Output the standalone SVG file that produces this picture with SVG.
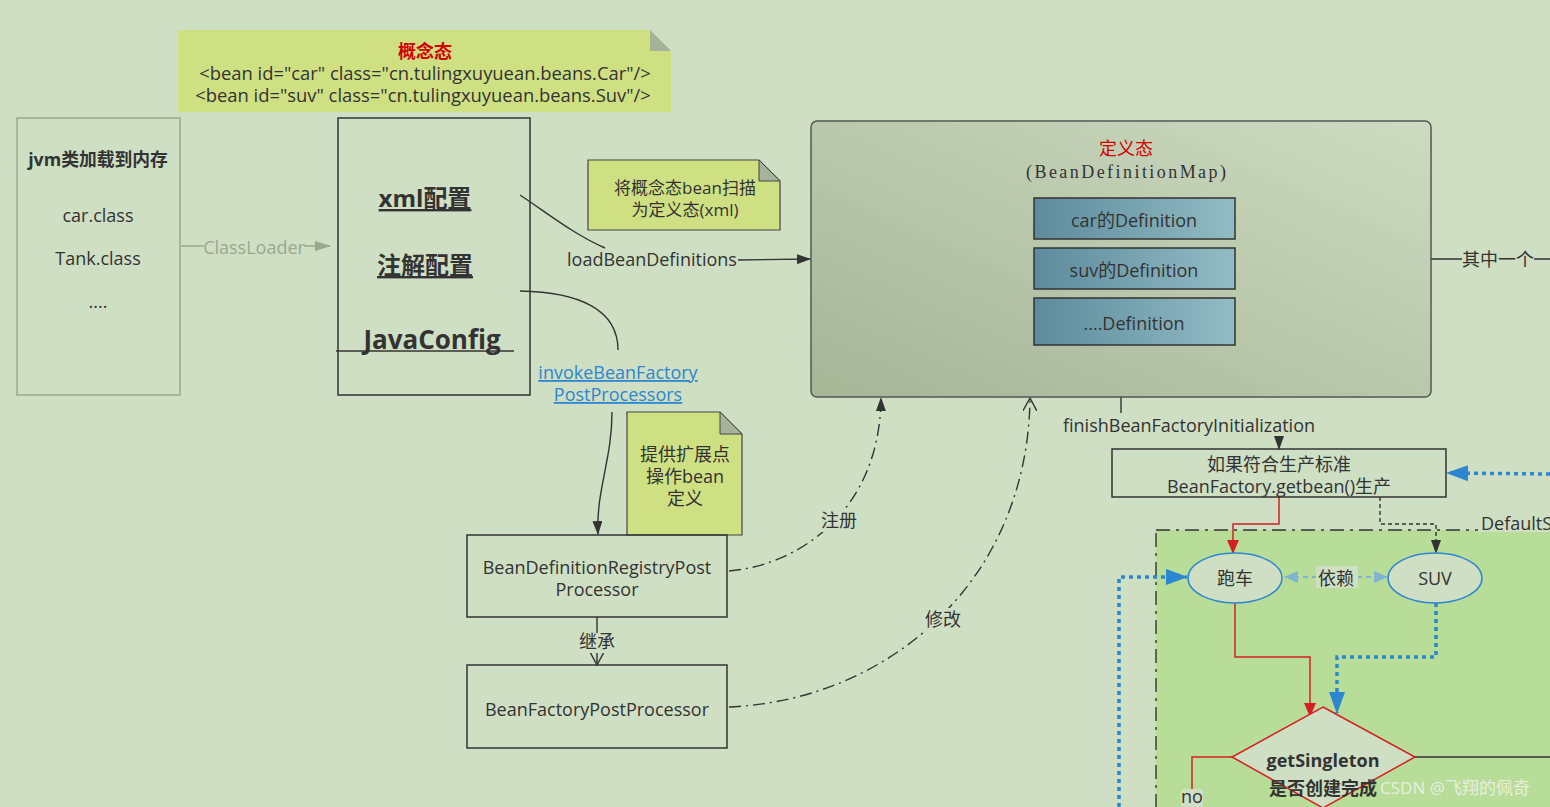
<svg xmlns="http://www.w3.org/2000/svg" width="1550" height="807" viewBox="0 0 1550 807">
<defs>
<style>
text{font-family:"Open Sans","Noto Sans CJK SC",sans-serif;fill:#333;font-size:18px;text-anchor:middle}
.b{font-weight:bold}
.box{fill:none;stroke:#333;stroke-width:1.5}
.note{fill:#cfe083;stroke:#444;stroke-width:1.2}
.fold{fill:#a6b29a;stroke:#444;stroke-width:1}
.ln{fill:none;stroke:#333;stroke-width:1.4}
.dd{fill:none;stroke:#333;stroke-width:1.4;stroke-dasharray:12 5 2 5}
.red{fill:none;stroke:#d42020;stroke-width:1.5}
.blu{fill:none;stroke:#2d86d0;stroke-width:3.5;stroke-dasharray:4 4}
</style>
<linearGradient id="gMap" x1="0" y1="1" x2="1" y2="0">
<stop offset="0" stop-color="#a6b596"/>
<stop offset="1" stop-color="#cddcc1"/>
</linearGradient>
<linearGradient id="gDef" x1="0" y1="0" x2="1" y2="0">
<stop offset="0" stop-color="#5d8b9d"/>
<stop offset="1" stop-color="#92bcc4"/>
</linearGradient>
<marker id="aK" markerWidth="14" markerHeight="10" refX="13" refY="5" orient="auto" markerUnits="userSpaceOnUse"><path d="M0,0 L14,5 L0,10 Z" fill="#333"/></marker>
<marker id="aG" markerWidth="16" markerHeight="10" refX="15" refY="5" orient="auto" markerUnits="userSpaceOnUse"><path d="M0,0 L16,5 L0,10 Z" fill="#9aa890"/></marker>
<marker id="aV" markerWidth="14" markerHeight="14" refX="13" refY="7" orient="auto" markerUnits="userSpaceOnUse"><path d="M0,0 L13,7 L0,14" fill="none" stroke="#333" stroke-width="1.4"/></marker>
<marker id="aR" markerWidth="14" markerHeight="12" refX="13" refY="6" orient="auto" markerUnits="userSpaceOnUse"><path d="M0,0 L14,6 L0,12 Z" fill="#d42020"/></marker>
<marker id="aB" markerWidth="22" markerHeight="16" refX="21" refY="8" orient="auto" markerUnits="userSpaceOnUse"><path d="M0,0 L22,8 L0,16 Z" fill="#2d86d0"/></marker>
<marker id="aL" markerWidth="14" markerHeight="12" refX="13" refY="6" orient="auto" markerUnits="userSpaceOnUse"><path d="M0,0 L14,6 L0,12 Z" fill="#7fb5cf"/></marker>
<marker id="aL2" markerWidth="14" markerHeight="12" refX="1" refY="6" orient="auto" markerUnits="userSpaceOnUse"><path d="M14,0 L0,6 L14,12 Z" fill="#7fb5cf"/></marker>
</defs>
<rect width="1550" height="807" fill="#cfdfc4"/>

<g id="region-default">
<rect x="1156" y="530" width="400" height="290" fill="#b8dd99" stroke="#333" stroke-width="1.4" stroke-dasharray="14 6 3 6"/>
<rect x="1478" y="513" width="80" height="19" fill="#cfdfc4"/>
<text x="1481" y="530" style="text-anchor:start">DefaultS</text>
</g>

<g id="connectors">
<line x1="181" y1="246" x2="330" y2="246" stroke="#9aa890" stroke-width="1.4" marker-end="url(#aG)"/>
<rect x="204" y="236" width="100" height="20" fill="#cfdfc4"/>
<text x="254" y="254" style="fill:#9aa890">ClassLoader</text>
<path class="ln" d="M520,195 C550,215 575,235 605,248"/>
<path class="ln" d="M520,291 C580,292 618,310 618,350"/>
<text x="652" y="266">loadBeanDefinitions</text>
<line class="ln" x1="738" y1="260" x2="810" y2="259" marker-end="url(#aK)"/>
<path class="ln" d="M612,412 C612,460 596,490 598,534" marker-end="url(#aK)"/>
<line class="ln" x1="597" y1="617" x2="597" y2="665" marker-end="url(#aV)"/>
<rect x="578" y="633" width="38" height="20" fill="#cfdfc4"/>
<text x="597" y="648">继承</text>
<path class="dd" d="M729,571 C800,565 880,510 881,398" marker-end="url(#aK)"/>
<rect x="819" y="510" width="40" height="22" fill="#cfdfc4"/>
<text x="839" y="527">注册</text>
<path class="dd" d="M729,707 C890,700 1028,580 1030,398" marker-end="url(#aV)"/>
<rect x="923" y="608" width="40" height="22" fill="#cfdfc4"/>
<text x="943" y="626">修改</text>
<line class="ln" x1="1431" y1="259" x2="1550" y2="259"/>
<rect x="1462" y="249" width="72" height="20" fill="#cfdfc4"/>
<text x="1498" y="266">其中一个</text>
<line class="ln" x1="1121" y1="397" x2="1121" y2="413"/>
<text x="1189" y="432">finishBeanFactoryInitialization</text>
<line class="ln" x1="1279" y1="436" x2="1279" y2="449" marker-end="url(#aK)"/>
<line class="blu" x1="1550" y1="474" x2="1447" y2="473" marker-end="url(#aB)"/>
<path class="red" d="M1279,497 V524 H1233 V553" marker-end="url(#aR)"/>
<path d="M1380,497 V524 H1436 V553" fill="none" stroke="#333" stroke-width="1.4" stroke-dasharray="4 3" marker-end="url(#aK)"/>
<line x1="1285" y1="577" x2="1387" y2="577" stroke="#7fb5cf" stroke-width="2" stroke-dasharray="5 4" marker-start="url(#aL2)" marker-end="url(#aL)"/>
<rect x="1316" y="566" width="42" height="22" fill="#cfdfc4"/>
<text x="1336" y="585">依赖</text>
<path class="blu" d="M1119,807 V577 H1187" marker-end="url(#aB)"/>
<path class="red" d="M1235,603 V657 H1310 V716" marker-end="url(#aR)"/>
<path class="blu" d="M1436,603 V657 H1337 V713" marker-end="url(#aB)"/>
<line class="ln" x1="1415" y1="757" x2="1550" y2="757"/>
<path class="red" d="M1232,757 H1192 V790"/>
</g>

<g id="note-concept">
<path class="note" style="stroke:none" d="M178,30 H650 L671,51 V112 H178 Z"/>
<path d="M650,30 L671,51 H650 Z" fill="#a6b29a"/>
<text x="425" y="58" class="b" style="fill:#d40000;font-size:18px">概念态</text>
<text x="425" y="80" style="font-size:18.4px">&lt;bean id="car" class="cn.tulingxuyuean.beans.Car"/&gt;</text>
<text x="423" y="102" style="font-size:18.4px">&lt;bean id="suv" class="cn.tulingxuyuean.beans.Suv"/&gt;</text>
</g>

<g id="jvm">
<rect x="17" y="118" width="163" height="277" fill="none" stroke="#9aa890" stroke-width="1.5"/>
<text x="98" y="166" class="b" style="font-size:17.8px">jvm类加载到内存</text>
<text x="98" y="222">car.class</text>
<text x="98" y="265">Tank.class</text>
<text x="98" y="308">....</text>
</g>

<g id="config">
<rect class="box" x="338" y="118" width="192" height="277"/>
<text x="425" y="207" class="b" style="font-size:24px;text-decoration:underline">xml配置</text>
<text x="425" y="274" class="b" style="font-size:24px;text-decoration:underline">注解配置</text>
<text x="432" y="349" class="b" style="font-size:26px">JavaConfig</text>
<line class="ln" x1="336" y1="351" x2="514" y2="351"/>
</g>

<g id="note-scan">
<path class="note" d="M588,160 H759 L780,181 V230 H588 Z"/>
<path class="fold" d="M759,160 L780,181 H759 Z"/>
<text x="685" y="194" style="font-size:17px">将概念态bean扫描</text>
<text x="685" y="216" style="font-size:17px">为定义态(xml)</text>
</g>

<g id="invoke">
<text x="618" y="379" style="fill:#2d86d0;text-decoration:underline">invokeBeanFactory</text>
<text x="618" y="401" style="fill:#2d86d0;text-decoration:underline">PostProcessors</text>
</g>

<g id="note-ext">
<path class="note" d="M627,412 H720 L742,434 V535 H627 Z"/>
<path class="fold" d="M720,412 L742,434 H720 Z"/>
<text x="685" y="461">提供扩展点</text>
<text x="685" y="483">操作bean</text>
<text x="685" y="505">定义</text>
</g>

<g id="registry">
<rect class="box" x="467" y="535" width="260" height="82"/>
<text x="597" y="574">BeanDefinitionRegistryPost</text>
<text x="597" y="596">Processor</text>
</g>

<g id="factory-pp">
<rect class="box" x="467" y="665" width="260" height="83"/>
<text x="597" y="716">BeanFactoryPostProcessor</text>
</g>

<g id="def-map">
<rect x="811" y="121" width="620" height="276" rx="6" fill="url(#gMap)" stroke="#555" stroke-width="1.5"/>
<text x="1126" y="155" style="font-family:'Liberation Serif','Noto Sans CJK SC',serif;fill:#d40000;font-size:18px">定义态</text>
<text x="1126" y="178" textLength="200" style="font-family:'Liberation Serif',serif;font-size:18px">(BeanDefinitionMap)</text>
<rect x="1034" y="198" width="201" height="41" fill="url(#gDef)" stroke="#333" stroke-width="1.5"/>
<text x="1134" y="227">car的Definition</text>
<rect x="1034" y="248" width="201" height="41" fill="url(#gDef)" stroke="#333" stroke-width="1.5"/>
<text x="1134" y="277">suv的Definition</text>
<rect x="1034" y="298" width="201" height="47" fill="url(#gDef)" stroke="#333" stroke-width="1.5"/>
<text x="1134" y="330">....Definition</text>
</g>

<g id="getbean">
<rect class="box" x="1112" y="449" width="334" height="48"/>
<text x="1279" y="471">如果符合生产标准</text>
<text x="1279" y="493">BeanFactory.getbean()生产</text>
</g>

<g id="paoche">
<ellipse cx="1235" cy="578" rx="47" ry="25" fill="#cfdfc4" stroke="#2d86d0" stroke-width="1.5"/>
<text x="1235" y="585">跑车</text>
</g>

<g id="suv">
<ellipse cx="1435" cy="578" rx="47" ry="25" fill="#cfdfc4" stroke="#2d86d0" stroke-width="1.5"/>
<text x="1435" y="585">SUV</text>
</g>

<g id="singleton">
<path d="M1323,707 L1415,757 L1323,808 L1232,757 Z" fill="#cfdfc4" stroke="#d42020" stroke-width="1.5"/>
<text x="1323" y="767" class="b">getSingleton</text>
<text x="1323" y="795" class="b">是否创建完成</text>
</g>

<g id="no">
<rect x="1181" y="789" width="22" height="18" fill="#cfdfc4"/>
<text x="1192" y="803">no</text>
</g>

<text x="1455" y="794" style="fill:#f4f4f0;opacity:0.8;font-size:17px">CSDN @飞翔的佩奇</text>
</svg>
